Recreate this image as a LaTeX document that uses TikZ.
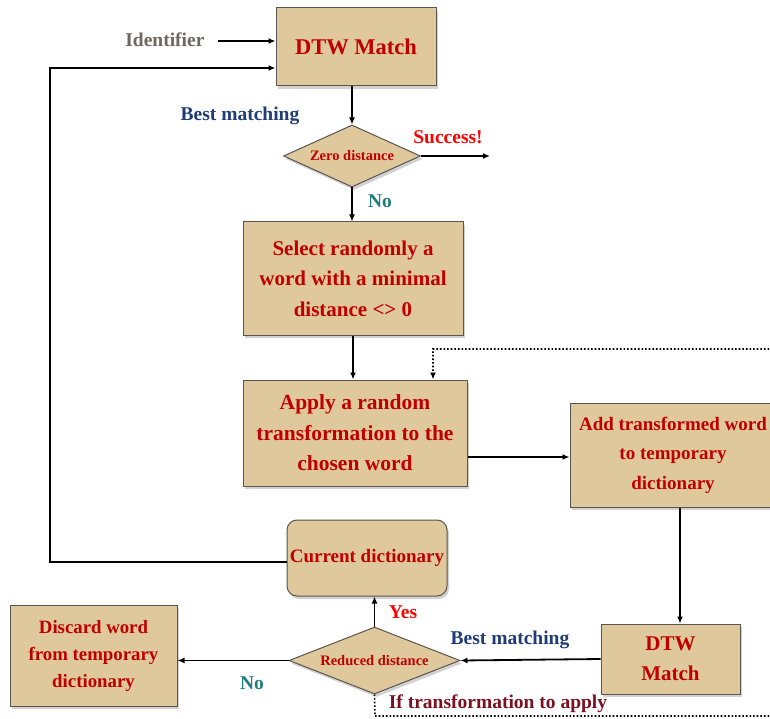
\documentclass[tikz,border=0pt]{standalone}
\usepackage{fontspec}
\setmainfont{Liberation Serif}
\usetikzlibrary{shapes.geometric,shadows,arrows.meta}
\definecolor{boxfill}{HTML}{DFC89B}
\definecolor{boxline}{HTML}{5A5550}
\definecolor{txtred}{HTML}{C00000}
\definecolor{brightred}{HTML}{FF0000}
\definecolor{tealno}{HTML}{1F7C7E}
\definecolor{navy}{HTML}{1F3C78}
\definecolor{idgray}{HTML}{6E6660}
\definecolor{maroon}{HTML}{7A1020}
\tikzset{
  x=1pt,y=1pt,
  procbox/.style={draw=boxline,line width=1pt,fill=boxfill,
    drop shadow={shadow xshift=2pt,shadow yshift=-3pt,fill=black!35},
    inner sep=0pt,align=center,text=txtred,font=\bfseries\fontsize{19}{30}\selectfont},
  decbox/.style={diamond,draw=boxline,line width=1pt,fill=boxfill,
    drop shadow={shadow xshift=2pt,shadow yshift=-3pt,fill=black!35},
    inner sep=0pt,aspect=2.2,text=txtred,font=\bfseries\fontsize{14.5}{16}\selectfont},
  flow/.style={line width=1.8pt,-{Latex[length=7pt,width=6pt]}},
  dotflow/.style={line width=1.6pt,dotted,-{Latex[length=7pt,width=6pt]}},
  lbl/.style={font=\bfseries\fontsize{19.5}{22}\selectfont},
}
\begin{document}
\begin{tikzpicture}
\useasboundingbox (0,0) rectangle (770,-719);
\clip (0,0) rectangle (770,-719);
% nodes
\node[procbox,minimum width=160,minimum height=78,font=\bfseries\fontsize{22.5}{26}\selectfont] (dtw1) at (356,-47) {DTW Match};
\node[decbox,minimum width=137,minimum height=62] (zero) at (352,-156) {Zero distance};
\node[procbox,minimum width=220,minimum height=113,font=\bfseries\fontsize{21}{30.5}\selectfont] (sel) at (353,-278.5) {Select randomly a\\word with a minimal\\distance <> 0};
\node[procbox,minimum width=224,minimum height=106,font=\bfseries\fontsize{21.5}{30.5}\selectfont] (app) at (355,-433) {Apply a random\\transformation to the\\chosen word};
\node[procbox,minimum width=206,minimum height=104,font=\bfseries\fontsize{19}{29.5}\selectfont] (add) at (673,-455) {Add transformed word\\to temporary\\dictionary};
\node[procbox,minimum width=139,minimum height=70,font=\bfseries\fontsize{21}{30}\selectfont] (dtw2) at (670.5,-659) {DTW\\Match};
\node[decbox,minimum width=171,minimum height=67] (red) at (374.5,-660.5) {Reduced distance};
\node[procbox,rounded corners=10pt,minimum width=160,minimum height=76] (cur) at (367,-558) {Current dictionary};
\node[procbox,minimum width=167,minimum height=101,font=\bfseries\fontsize{18.8}{27}\selectfont] (dis) at (93.5,-655.5) {Discard word\\from temporary\\dictionary};
% labels
\node[lbl,text=idgray,anchor=east] (idl) at (208,-40) {Identifier};
\node[lbl,text=navy] (bm1) at (240,-116) {Best matching};
\node[lbl,text=brightred] (suc) at (448,-137) {Success!};
\node[lbl,text=tealno] (no1) at (380,-201) {No};
\node[lbl,text=navy] (bm2) at (510,-640) {Best matching};
\node[lbl,text=brightred] (yes) at (403,-612) {Yes};
\node[lbl,text=tealno] (no2) at (252,-683) {No};
\node[lbl,text=maroon] (ift) at (498,-704) {If transformation to apply};
% coordinates
\coordinate (idend) at (218,-41);
\coordinate (fb1) at (50,-68);
\coordinate (fb2) at (50,-562);
\coordinate (sucend) at (490,-156);
\coordinate (d1) at (375,-716);
\coordinate (d2) at (790,-716);
\coordinate (d3) at (790,-349);
\coordinate (d4) at (433,-349);
% connectors
\draw[flow] (idend) -- (idend -| dtw1.west);
\draw[flow] (cur.west |- fb2) -- (fb2) -- (fb1) -- (fb1 -| dtw1.west);
\draw[flow] (dtw1.south -| zero.north) -- (zero.north);
\draw[flow] (zero.east) -- (sucend);
\draw[flow] (zero.south) -- (zero.south |- sel.north);
\draw[flow] (sel.south) -- (sel.south |- app.north);
\draw[flow] (app.east |- 0,-457) -- (add.west |- 0,-457);
\draw[flow] (add.south -| 680,0) -- (dtw2.north -| 680,0);
\draw[flow] (dtw2.west) -- (red.east);
\draw[flow] (red.north) -- (red.north |- cur.south);
\draw[flow] (red.west) -- (dis.east |- red.west);
\draw[dotflow] (red.south) -- (d1) -- (d2) -- (d3) -- (d4) -- (d4 |- app.north);
\end{tikzpicture}
\end{document}
